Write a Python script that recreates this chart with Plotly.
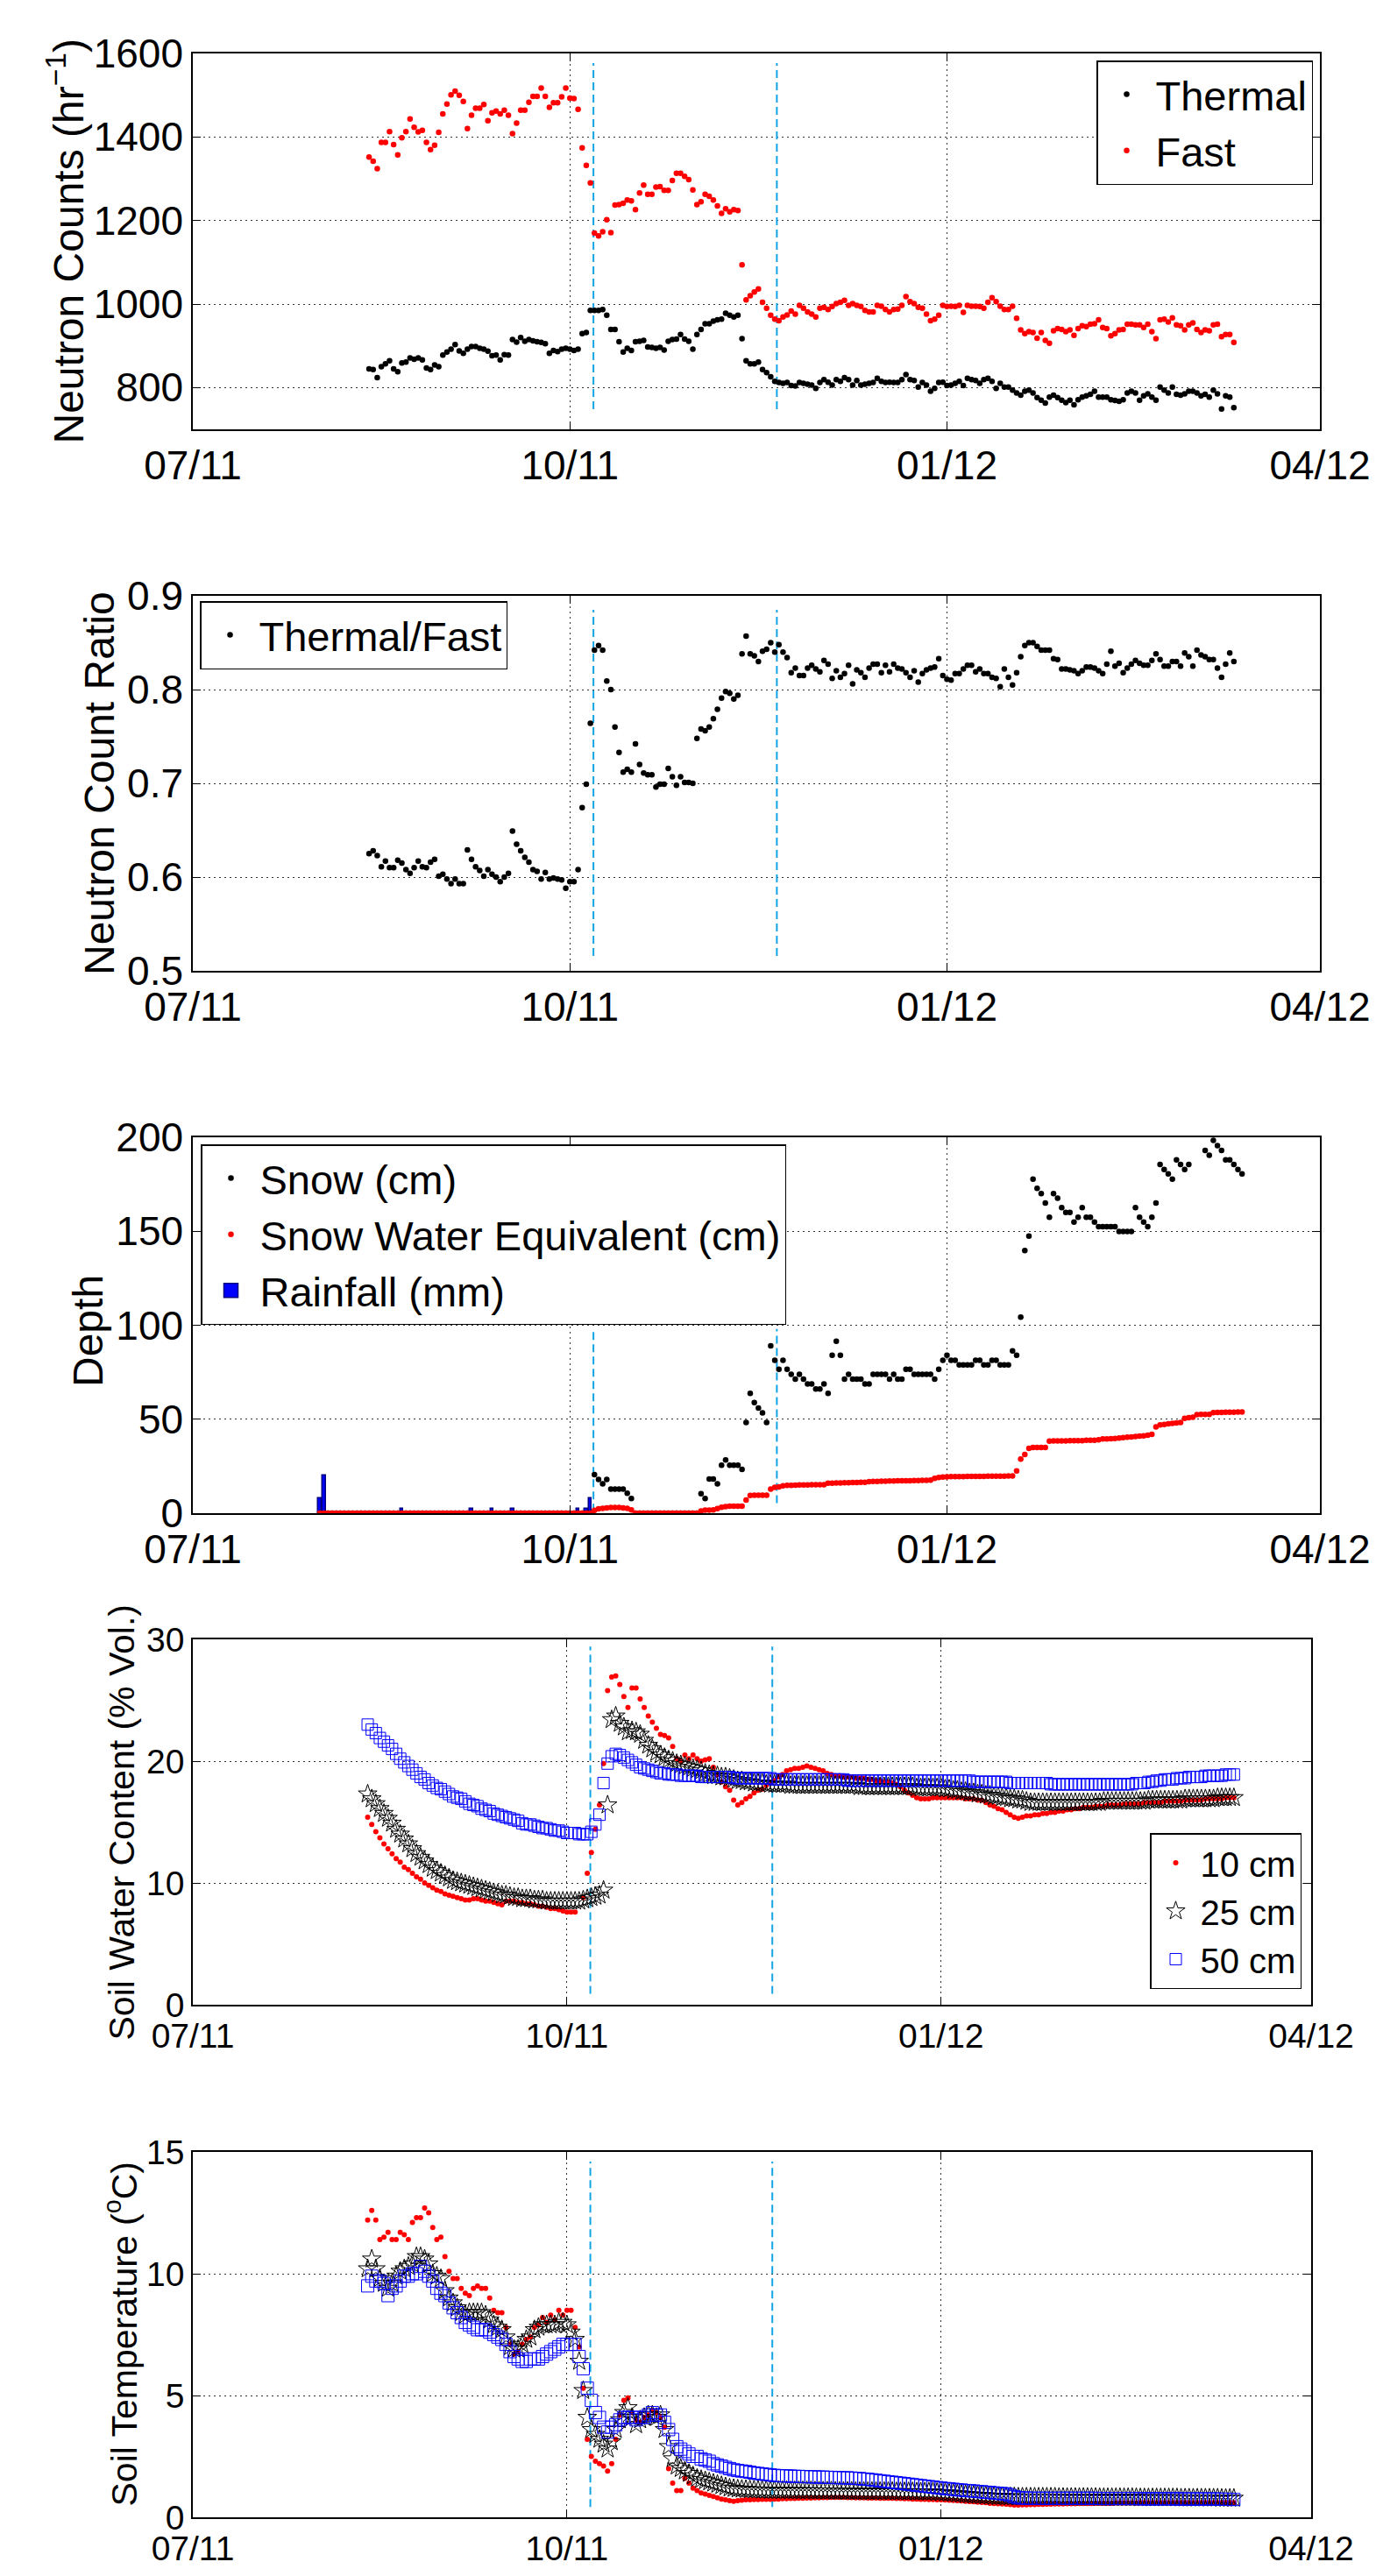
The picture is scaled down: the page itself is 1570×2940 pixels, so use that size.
import pandas as pd
import plotly.graph_objects as go

nan = float("nan")

# ---------------- data ----------------
X_START = "2011-07-01"
X_END = "2012-04-01"
X_TICKS = ["2011-07-01", "2011-10-01", "2012-01-01", "2012-04-01"]
X_TICK_LABELS = ["07/11", "10/11", "01/12", "04/12"]

EVENT_DATES = ["2011-10-06 18:00", "2011-11-20 12:00"]

NEUTRON_START = "2011-08-13"
THERMAL = [
    845, 843, 824, 850, 857, 864, 845, 838, 859, 861,
    871, 868, 871, 866, 847, 843, 854, 850, 878, 885,
    892, 903, 888, 882, 892, 898, 898, 894, 892, 887,
    876, 878, 866, 879, 878, 915, 909, 920, 911, 915,
    912, 910, 908, 905, 882, 889, 886, 892, 894, 892,
    889, 892, 929, 932, 985, 985, 985, 987, 973, 939,
    939, 910, 885, 894, 889, 910, 911, 913, 897, 896,
    894, 896, 890, 911, 915, 916, 927, 916, 911, 892,
    927, 939,
    953, 953, 959, 962, 964, 978, 973, 969, 973, 917,
    864, 857, 857, 861, 843, 836, 826, 815, 812, 810,
    812, 805, 804, 812, 810, 808, 806, 798, 812, 819,
    813, 806, 819, 815, 824, 819, 806, 817, 806, 808,
    810, 812, 822, 815, 812, 813, 812, 812, 819, 831,
    819, 817, 801, 812, 806, 791, 798, 812, 813, 805,
    806, 810, 815, 805, 822, 819, 817, 810, 819, 822,
    815, 798, 810, 801, 801, 794, 787, 782, 791, 794,
    787, 776, 770, 763, 777, 782, 776, 770, 764, 770,
    759, 771, 777, 780, 784, 791, 777, 777, 777, 771,
    769, 767, 771, 787, 791, 787, 770, 780, 785, 777,
    770, 801, 794, 787, 801, 784, 782, 785, 791, 791,
    787, 780, 784, 777, 794, 785, 749, 780, 777, 752,
]
FAST = [
    1352, 1342, 1324, 1387, 1387, 1413, 1382, 1357, 1398, 1413,
    1443, 1423, 1412, 1416, 1387, 1370, 1380, 1411, 1455, 1479,
    1501, 1510, 1500, 1485, 1420, 1452, 1469, 1469, 1478, 1439,
    1458, 1462, 1455, 1464, 1452, 1408, 1433, 1464, 1464, 1483,
    1497, 1497, 1517, 1497, 1471, 1482, 1482, 1496, 1517, 1493,
    1492, 1466, 1374, 1332, 1290, 1170, 1163, 1173, 1202, 1171,
    1237, 1238, 1241, 1249, 1247, 1226, 1266, 1285, 1263, 1263,
    1280, 1281, 1272, 1272, 1296, 1313, 1313, 1306, 1298, 1273,
    1238, 1245,
    1263, 1258, 1249, 1235, 1217, 1228, 1221, 1226, 1224, 1094,
    1010, 1020, 1029, 1036, 1004, 990, 973, 964, 960, 969,
    974, 983, 976, 997, 990, 981, 976, 969, 990, 992,
    987, 994, 1001, 1004, 1009, 997, 1001, 997, 994, 985,
    981, 981, 997, 995, 987, 981, 987, 988, 997, 1018,
    1006, 1001, 992, 990, 976, 960, 964, 973, 997, 994,
    995, 994, 997, 980, 997, 995, 995, 994, 990, 1004,
    1015, 1006, 995, 987, 987, 995, 966, 938, 929, 934,
    932, 918, 932, 913, 906, 936, 941, 939, 934, 938,
    925, 941, 948, 946, 952, 953, 962, 944, 941, 924,
    929, 938, 939, 952, 952, 950, 950, 944, 952, 934,
    917, 962, 964, 957, 967, 950, 948, 938, 950, 955,
    939, 932, 938, 936, 950, 952, 922, 927, 927, 908,
]
RATIO = [
    0.625, 0.628, 0.623, 0.611, 0.617, 0.610, 0.610, 0.618, 0.615, 0.608,
    0.604, 0.610, 0.617, 0.611, 0.610, 0.616, 0.619, 0.601, 0.603, 0.598,
    0.593, 0.598, 0.593, 0.593, 0.629, 0.619, 0.611, 0.607, 0.601, 0.608,
    0.603, 0.600, 0.595, 0.600, 0.604, 0.649, 0.635, 0.628, 0.621, 0.616,
    0.608, 0.606, 0.598, 0.605, 0.598, 0.599, 0.598, 0.597, 0.588, 0.595,
    0.595, 0.608, 0.674, 0.699, 0.764, 0.842, 0.847, 0.842, 0.809, 0.800,
    0.760, 0.733, 0.712, 0.715, 0.712, 0.742, 0.720, 0.711, 0.709, 0.709,
    0.696, 0.699, 0.699, 0.716, 0.707, 0.698, 0.707, 0.701, 0.701, 0.700,
    0.748, 0.758,
    0.756, 0.760, 0.769, 0.779, 0.791, 0.798, 0.796, 0.790, 0.794, 0.838,
    0.857, 0.838, 0.836, 0.830, 0.841, 0.843, 0.850, 0.840, 0.848, 0.840,
    0.834, 0.818, 0.823, 0.815, 0.815, 0.823, 0.826, 0.822, 0.819, 0.831,
    0.827, 0.812, 0.820, 0.813, 0.817, 0.826, 0.806, 0.821, 0.818, 0.813,
    0.823, 0.827, 0.827, 0.818, 0.826, 0.819, 0.827, 0.823, 0.822, 0.818,
    0.813, 0.820, 0.808, 0.817, 0.821, 0.823, 0.824, 0.833, 0.815, 0.811,
    0.810, 0.817, 0.817, 0.822, 0.826, 0.826, 0.819, 0.822, 0.817, 0.817,
    0.813, 0.812, 0.803, 0.822, 0.813, 0.805, 0.818, 0.835, 0.847, 0.850,
    0.850, 0.846, 0.842, 0.842, 0.842, 0.833, 0.832, 0.822, 0.822, 0.821,
    0.820, 0.817, 0.820, 0.824, 0.824, 0.823, 0.820, 0.817, 0.827, 0.841,
    0.825, 0.828, 0.818, 0.823, 0.827, 0.831, 0.828, 0.826, 0.826, 0.831,
    0.838, 0.832, 0.825, 0.825, 0.830, 0.830, 0.825, 0.839, 0.835, 0.825,
    0.842, 0.837, 0.835, 0.832, 0.832, 0.823, 0.813, 0.827, 0.839, 0.830,
]

SNOW_START = "2011-08-01"
SNOW_CM = [
    0, 0, 0, 0, 0, 0, 0, 0, 0, 0,
    0, 0, 0, 0, 0, 0, 0, 0, 0, 0,
    0, 0, 0, 0, 0, 0, 0, 0, 0, 0,
    0, 0, 0, 0, 0, 0, 0, 0, 0, 0,
    0, 0, 0, 0, 0, 0, 0, 0, 0, 0,
    0, 0, 0, 0, 0, 0, 0, 0, 0, 0,
    0, 0, 0, 0, 0, 0, 0,
    20.5, 17.9, 15.6, 17.9, 12.8, 12.8, 12.8, 12.8, 10.6, 7.8,
    0, 0, 0, 0, 0, 0, 0, 0, 0, 0, 0, 0, 0, 0, 0, 0,
    10.4, 7.8, 18.2, 18.2, 15.6, 25.5, 28.3, 25.5, 25.5, 25.5,
    23.3, 48.2, 63.8, 58.8, 56.0, 53.4, 48.2, 89.0, 81.4, 76.6,
    81.4, 76.6, 73.9, 71.3, 73.9, 71.3, 68.8, 68.8, 66.1, 66.1,
    68.8, 63.8, 84.0, 91.5, 84.0, 71.3, 73.9, 71.3, 71.3, 71.3,
    68.8, 68.8, 73.9, 73.9, 73.9, 73.9, 71.3, 73.9, 71.3, 71.3,
    76.6, 76.6, 73.9, 73.9, 73.9, 73.9, 73.9, 71.3, 76.6, 81.4,
    84.0, 81.4, 81.4, 78.9, 78.9, 78.9, 78.9, 81.4, 81.4, 78.9,
    78.9, 81.4, 81.4, 78.9, 78.9, 78.9, 86.4, 84.0, 104.3, 139.8,
    147.4, 177.7, 172.8, 170.1, 165.0, 157.5, 170.1, 167.6, 162.6, 160.0,
    160.0, 154.9, 157.5, 162.6, 157.5, 157.5, 154.9, 152.5, 152.5, 152.5,
    152.5, 152.5, 149.9, 149.9, 149.9, 149.9, 162.6, 157.5, 154.9, 152.5,
    157.5, 165.0, 185.5, 182.9, 180.5, 177.7, 188.0, 185.5, 182.9, 185.5,
    nan, nan, nan,
    193.0, 190.5, 198.4, 195.6, 193.0, 188.0, 188.0, 185.5, 182.9, 180.5,
]
SWE_CM = [
    0, 0, 0, 0, 0, 0, 0, 0, 0, 0,
    0, 0, 0, 0, 0, 0, 0, 0, 0, 0,
    0, 0, 0, 0, 0, 0, 0, 0, 0, 0,
    0, 0, 0, 0, 0, 0, 0, 0, 0, 0,
    0, 0, 0, 0, 0, 0, 0, 0, 0, 0,
    0, 0, 0, 0, 0, 0, 0, 0, 0, 0,
    0, 0, 0, 0, 0, 0, 0,
    1.5, 2.3, 2.6, 2.8, 3.0, 3.0, 3.0, 2.8, 2.6, 1.8,
    0, 0, 0, 0, 0, 0, 0, 0, 0, 0, 0, 0, 0, 0, 0, 0,
    1.2, 1.6, 1.6, 1.8, 2.5, 3.2, 3.5, 3.7, 3.7, 3.7,
    3.7, 7.0, 9.4, 9.6, 9.6, 9.6, 9.6, 12.8, 13.7, 14.0,
    14.6, 14.8, 14.8, 14.9, 15.0, 15.0, 15.0, 15.1, 15.1, 15.1, 15.2,
    16.0, 16.0, 16.1, 16.1, 16.2, 16.2, 16.3, 16.3, 16.4, 16.4,
    16.8, 16.9, 16.9, 17.0, 17.0, 17.1, 17.1, 17.2, 17.2, 17.3,
    17.3, 17.4, 17.4, 17.5, 17.5, 17.6,
    18.5, 19.0, 19.2,
    19.4, 19.5, 19.5, 19.5, 19.5, 19.6, 19.6, 19.6, 19.6, 19.6,
    19.7, 19.7, 19.7, 19.7, 19.7, 19.8, 19.8,
    22.5, 28.8, 31.2,
    34.5, 35.0, 35.0, 35.0, 35.0,
    38.3, 38.5, 38.5, 38.5, 38.5, 38.6, 38.6, 38.6, 38.6, 38.8, 38.8, 38.8,
    39.0, 39.5, 39.5, 39.6, 39.8, 40.0, 40.2, 40.4, 40.6, 40.8, 41.0, 41.2, 41.5,
    42.0, 45.9,
    47.0, 47.2, 47.5, 47.8, 48.0, 48.2,
    50.5, 50.8, 51.0,
    52.4, 52.6, 52.6, 52.6,
    53.5, 53.6, 53.6, 53.7, 53.7, 53.7, 53.8, 53.8,
]
RAIN_DATES = ["2011-08-01", "2011-08-02", "2011-08-21", "2011-09-07", "2011-09-12",
              "2011-09-17", "2011-10-03", "2011-10-05", "2011-10-06"]
RAIN_MM = [7.8, 20.2, 2.3, 2.3, 2.3, 2.3, 2.3, 2.3, 7.8]

SOIL_START = "2011-08-13"
SWC_10 = [
    15.4, 14.8, 14.2, 13.7, 13.2, 12.8, 12.4, 12.0, 11.7, 11.3,
    11.1, 10.8, 10.5, 10.3, 10.0, 9.8, 9.6, 9.4, 9.3, 9.1,
    9.0, 8.9, 8.8, 8.7, 8.6, 8.6, 8.7, 8.7, 8.6, 8.5,
    8.5, 8.4, 8.3, 8.2, 8.5, 8.5, 8.5, 8.4, 8.4, 8.3,
    8.3, 8.2, 8.1, 8.1, 8.0, 7.9, 7.9, 7.8, 7.7, 7.6,
    7.6, 7.6, nan, 8.8, 10.8, 12.5, 14.4, 16.4, 19.8, 25.8,
    26.9, 27.0, 26.3, 25.3, 24.4, 26.0, 26.0, 25.1, 24.4, 23.7,
    23.2, 22.7, 22.2, 22.1, 21.9, 21.2, 20.2, 20.0, 20.5, 20.2,
    20.5, 20.2, 20.0, 20.1, 20.2, 19.5, 18.9, 18.3, 17.9, 17.6,
    16.8, 16.4, 16.6, 16.9, 17.1, 17.4, 17.6, 17.7, 18.0, 18.2,
    18.4, 18.7, 18.9, 19.2, 19.3, 19.4, 19.4, 19.5, 19.6, 19.5,
    19.4, 19.3, 19.2, 19.0, 18.9, 18.8, 18.8, 18.7, 18.7, 18.7,
    18.6, 18.6, 18.6, 18.5, 18.5, 18.4, 18.4, 18.3, 18.3, 18.2,
    18.1, 17.9, 17.6, 17.4, 17.2, 17.0, 16.9, 16.9, 16.9, 17.0,
    17.0, 17.0, 17.0, 17.0, 17.0, 17.0, 17.0, 16.9, 16.9, 16.9,
    16.8, 16.8, 16.6, 16.4, 16.3, 16.1, 16.0, 15.8, 15.6, 15.4,
    15.3, 15.4, 15.5, 15.5, 15.6, 15.6, 15.7, 15.7, 15.8, 15.8,
    15.9, 15.9, 16.0, 16.0, 16.1, 16.1, 16.2, 16.2, 16.2, 16.3,
    16.3, 16.3, 16.4, 16.4, 16.4, 16.4, 16.5, 16.5, 16.5, 16.5,
    16.5, 16.6, 16.6, 16.6, 16.6, 16.6, 16.7, 16.7, 16.7, 16.7,
    16.7, 16.8, 16.8, 16.8, 16.8, 16.8, 16.9, 16.9, 16.9, 16.9,
    16.9, 17.0, 17.0, 17.0,
]
SWC_25 = [
    17.3, 16.9, 16.5, 16.1, 15.7, 15.3, 14.9, 14.4, 14.0, 13.6,
    13.2, 12.8, 12.4, 12.1, 11.8, 11.5, 11.2, 11.0, 10.8, 10.6,
    10.4, 10.2, 10.1, 10.0, 9.9, 9.8, 9.7, 9.6, 9.5, 9.4,
    9.3, 9.2, 9.1, 9.0, 9.0, 8.9, 8.8, 8.8, 8.7, 8.7,
    8.7, 8.6, 8.6, 8.6, 8.5, 8.5, 8.5, 8.5, 8.5, 8.5,
    8.5, 8.5, 8.5, 8.6, 8.7, 8.8, 8.9, 9.0, 9.4, 16.4,
    23.4, 23.7, 23.1, 22.8, 22.4, 22.5, 22.4, 22.2, 21.7, 21.3,
    21.0, 20.7, 20.5, 20.3, 20.1, 20.0, 19.8, 19.7, 19.6, 19.5,
    19.4, 19.3, 19.2, 19.0, 18.9, 18.8, 18.8, 18.7, 18.7, 18.6,
    18.5, 18.4, 18.4, 18.3, 18.3, 18.2, 18.2, 18.2, 18.1, 18.1,
    18.1, 18.1, 18.1, 18.1, 18.0, 18.0, 18.0, 18.0, 18.0, 18.0,
    18.0, 18.0, 18.0, 18.0, 18.0, 18.0, 18.0, 18.0, 18.0, 18.0,
    18.0, 17.9, 17.9, 17.9, 17.9, 17.9, 17.9, 17.9, 17.9, 17.9,
    17.9, 17.9, 17.9, 17.9, 17.9, 17.8, 17.8, 17.8, 17.8, 17.8,
    17.8, 17.8, 17.7, 17.7, 17.6, 17.6, 17.5, 17.5, 17.4, 17.4,
    17.3, 17.3, 17.2, 17.2, 17.1, 17.1, 17.0, 17.0, 16.9, 16.9,
    16.8, 16.8, 16.7, 16.6, 16.6, 16.6, 16.6, 16.6, 16.6, 16.6,
    16.6, 16.6, 16.6, 16.6, 16.6, 16.6, 16.6, 16.6, 16.6, 16.6,
    16.6, 16.7, 16.7, 16.7, 16.7, 16.7, 16.7, 16.7, 16.7, 16.7,
    16.7, 16.7, 16.8, 16.8, 16.8, 16.8, 16.8, 16.8, 16.8, 16.8,
    16.8, 16.9, 16.9, 16.9, 16.9, 16.9, 16.9, 16.9, 16.9, 17.0,
    17.0, 17.0, 17.0, 17.0,
]
SWC_50 = [
    23.0, 22.6, 22.3, 21.9, 21.6, 21.3, 21.0, 20.6, 20.2, 19.9,
    19.6, 19.3, 19.0, 18.7, 18.5, 18.2, 18.0, 17.8, 17.7, 17.5,
    17.3, 17.1, 17.0, 16.9, 16.7, 16.5, 16.4, 16.3, 16.1, 16.0,
    15.9, 15.7, 15.6, 15.5, 15.4, 15.3, 15.2, 15.1, 14.9, 14.8,
    14.8, 14.7, 14.6, 14.5, 14.5, 14.4, 14.3, 14.3, 14.2, 14.1,
    14.1, 14.1, 14.0, 14.0, 14.0, 14.2, 14.8, 15.6, 18.2, 19.8,
    20.4, 20.6, 20.5, 20.3, 20.1, 19.9, 19.7, 19.5, 19.4, 19.3,
    19.2, 19.1, 19.0, 19.0, 18.9, 18.9, 18.9, 18.8, 18.8, 18.8,
    18.8, 18.8, 18.7, 18.7, 18.7, 18.7, 18.7, 18.7, 18.7, 18.7,
    18.6, 18.6, 18.6, 18.6, 18.6, 18.6, 18.6, 18.6, 18.6, 18.6,
    18.5, 18.5, 18.5, 18.5, 18.5, 18.5, 18.5, 18.5, 18.5, 18.5,
    18.5, 18.5, 18.5, 18.5, 18.5, 18.5, 18.5, 18.5, 18.4, 18.4,
    18.4, 18.4, 18.4, 18.4, 18.4, 18.4, 18.4, 18.4, 18.4, 18.4,
    18.4, 18.4, 18.4, 18.4, 18.4, 18.4, 18.4, 18.4, 18.4, 18.4,
    18.4, 18.4, 18.4, 18.4, 18.4, 18.4, 18.4, 18.4, 18.4, 18.3,
    18.3, 18.3, 18.3, 18.3, 18.3, 18.3, 18.3, 18.3, 18.2, 18.2,
    18.2, 18.2, 18.2, 18.2, 18.2, 18.2, 18.2, 18.2, 18.1, 18.1,
    18.1, 18.1, 18.1, 18.1, 18.1, 18.1, 18.1, 18.1, 18.1, 18.1,
    18.1, 18.1, 18.1, 18.1, 18.1, 18.1, 18.1, 18.1, 18.1, 18.2,
    18.2, 18.2, 18.3, 18.3, 18.4, 18.4, 18.5, 18.5, 18.5, 18.6,
    18.6, 18.6, 18.7, 18.7, 18.7, 18.7, 18.8, 18.8, 18.8, 18.8,
    18.8, 18.9, 18.9, 18.9,
]
TEMP_10 = [
    12.2, 12.6, 12.2, 11.4, 11.5, 11.7, 11.4, 11.4, 11.7, 11.6,
    11.4, 12.1, 12.3, 12.3, 12.7, 12.5, 11.9, 11.4, 11.5, 10.7,
    10.1, 9.8, 9.8, 9.4, 9.2, 9.1, 9.4, 9.5, 9.4, 9.4,
    9.0, 8.5, 8.4, 8.4, 7.8, 7.1, 6.7, 6.8, 7.1, 7.3,
    7.4, 7.8, 7.9, 8.2, 8.0, 8.3, 8.1, 8.5, 8.3, 8.5,
    8.5, 7.8, 7.0, 5.3, 3.2, 2.5, 2.3, 2.2, 2.1, 1.9,
    2.2, 3.2, 4.2, 4.8, 4.9, 4.3, 4.0, 3.9, 4.1, 4.2,
    4.4, 4.3, 4.1, 3.7, 2.0, 1.4, 1.1, 1.1, 1.6, 1.4,
    1.2, 1.1, 1.0, 0.95, 0.9, 0.85, 0.8, 0.75, 0.72, 0.68,
    0.66, 0.68, 0.70, 0.72, 0.72, 0.73, 0.73, 0.74, 0.74, 0.74,
    0.75, 0.75, 0.76, 0.76, 0.77, 0.77, 0.78, 0.78, 0.79, 0.79,
    0.80, 0.80, 0.81, 0.81, 0.82, 0.82, 0.82, 0.82, 0.81, 0.81,
    0.80, 0.80, 0.80, 0.79, 0.79, 0.79, 0.78, 0.78, 0.78, 0.78,
    0.77, 0.77, 0.76, 0.76, 0.75, 0.75, 0.74, 0.74, 0.73, 0.73,
    0.72, 0.72, 0.71, 0.70, 0.69, 0.68, 0.67, 0.66, 0.65, 0.64,
    0.62, 0.61, 0.60, 0.58, 0.57, 0.56, 0.55, 0.54, 0.52, 0.50,
    0.50, 0.51, 0.51, 0.52, 0.52, 0.53, 0.53, 0.54, 0.54, 0.55,
    0.55, 0.55, 0.56, 0.56, 0.56, 0.57, 0.57, 0.57, 0.57, 0.58,
    0.58, 0.58, 0.58, 0.58, 0.59, 0.59, 0.59, 0.59, 0.59, 0.59,
    0.60, 0.60, 0.60, 0.60, 0.60, 0.60, 0.60, 0.60, 0.60, 0.60,
    0.60, 0.60, 0.60, 0.60, 0.60, 0.60, 0.60, 0.60, 0.60, 0.60,
    0.60, 0.60, 0.60, 0.60,
]
TEMP_25 = [
    10.2, 10.6, 10.2, 9.8, 9.6, 9.4, 9.6, 9.9, 10.1, 10.2,
    10.3, 10.4, 10.7, 10.7, 10.6, 10.4, 10.0, 9.9, 9.8, 9.3,
    9.0, 8.8, 8.6, 8.4, 8.3, 8.4, 8.4, 8.4, 8.4, 8.3,
    8.1, 7.9, 7.8, 7.7, 7.4, 7.0, 6.9, 6.9, 7.1, 7.3,
    7.4, 7.7, 7.8, 7.9, 7.9, 7.9, 7.9, 8.0, 8.0, 7.9,
    7.6, 7.3, 6.4, 5.2, 4.1, 3.6, 3.4, 3.2, 3.0, 2.8,
    3.1, 3.6, 4.0, 4.3, 4.5, 4.1, 3.8, 4.0, 4.1, 4.2,
    4.2, 4.1, 4.2, 3.6, 2.9, 2.4, 2.1, 2.0, 1.9, 1.8,
    1.7, 1.6, 1.55, 1.5, 1.45, 1.4, 1.35, 1.3, 1.25, 1.2,
    1.18, 1.16, 1.15, 1.14, 1.13, 1.12, 1.12, 1.11, 1.11, 1.10,
    1.10, 1.10, 1.10, 1.10, 1.09, 1.09, 1.09, 1.09, 1.09, 1.09,
    1.08, 1.08, 1.08, 1.08, 1.08, 1.07, 1.07, 1.07, 1.07, 1.07,
    1.06, 1.06, 1.06, 1.06, 1.06, 1.06, 1.06, 1.06, 1.06, 1.06,
    1.05, 1.05, 1.05, 1.05, 1.05, 1.04, 1.04, 1.04, 1.04, 1.04,
    1.02, 1.01, 1.00, 0.99, 0.98, 0.96, 0.95, 0.93, 0.92, 0.91,
    0.90, 0.89, 0.88, 0.87, 0.86, 0.85, 0.85, 0.84, 0.84, 0.84,
    0.83, 0.83, 0.83, 0.83, 0.83, 0.83, 0.83, 0.83, 0.83, 0.83,
    0.82, 0.82, 0.82, 0.82, 0.82, 0.82, 0.82, 0.82, 0.82, 0.82,
    0.81, 0.81, 0.81, 0.81, 0.81, 0.81, 0.81, 0.81, 0.81, 0.81,
    0.80, 0.80, 0.80, 0.80, 0.80, 0.80, 0.80, 0.80, 0.80, 0.80,
    0.79, 0.79, 0.79, 0.79, 0.79, 0.79, 0.79, 0.79, 0.79, 0.79,
    0.78, 0.78, 0.78, 0.78,
]
TEMP_50 = [
    9.5, 9.9, 9.7, 9.7, 9.6, 9.1, 9.4, 9.5, 9.7, 9.9,
    9.9, 10.0, 10.0, 10.3, 10.1, 9.9, 9.7, 9.4, 9.2, 9.1,
    8.8, 8.6, 8.4, 8.2, 8.0, 7.9, 7.8, 7.7, 7.7, 7.7,
    7.6, 7.5, 7.4, 7.3, 7.1, 6.8, 6.6, 6.5, 6.4, 6.4,
    6.5, 6.5, 6.5, 6.6, 6.7, 6.8, 6.9, 7.0, 7.1, 7.1,
    7.1, 7.1, 6.6, 6.1, 5.3, 4.8, 4.3, 4.1, 3.7, 3.5,
    3.7, 3.8, 4.0, 4.1, 4.1, 4.1, 4.0, 4.1, 4.1, 4.2,
    4.3, 4.2, 4.2, 3.9, 3.6, 3.2, 2.9, 2.8, 2.7, 2.6,
    2.5, 2.5, 2.4, 2.35, 2.3, 2.2, 2.15, 2.1, 2.05, 2.0,
    1.95, 1.92, 1.9, 1.88, 1.85, 1.82, 1.8, 1.78, 1.76, 1.74,
    1.72, 1.71, 1.70, 1.70, 1.69, 1.68, 1.68, 1.67, 1.67, 1.66,
    1.66, 1.65, 1.65, 1.64, 1.64, 1.63, 1.63, 1.62, 1.62, 1.61,
    1.60, 1.59, 1.57, 1.56, 1.54, 1.52, 1.50, 1.48, 1.46, 1.44,
    1.42, 1.40, 1.38, 1.36, 1.34, 1.32, 1.30, 1.28, 1.26, 1.24,
    1.22, 1.20, 1.18, 1.17, 1.15, 1.13, 1.12, 1.10, 1.09, 1.08,
    1.06, 1.05, 1.03, 1.02, 1.00, 0.99, 0.97, 0.96, 0.90, 0.84,
    0.80, 0.79, 0.79, 0.78, 0.78, 0.78, 0.78, 0.78, 0.78, 0.78,
    0.78, 0.78, 0.78, 0.78, 0.78, 0.78, 0.78, 0.78, 0.78, 0.78,
    0.77, 0.77, 0.77, 0.77, 0.77, 0.77, 0.77, 0.77, 0.77, 0.77,
    0.76, 0.76, 0.76, 0.76, 0.76, 0.76, 0.76, 0.76, 0.76, 0.76,
    0.75, 0.75, 0.75, 0.75, 0.75, 0.75, 0.75, 0.75, 0.75, 0.75,
    0.74, 0.74, 0.74, 0.73,
]

# vertical extent of the two dashed event lines in each panel (data units)
EVENT_SPANS = [
    [(748, 1577), (748, 1577)],
    [(0.516, 0.885), (0.516, 0.885)],
    [(0.8, 98), (5.4, 98)],
    [(0.9, 29.4), (0.9, 29.4)],
    [(0.42, 14.6), (0.42, 14.6)],
]

# ---------------- figure ----------------
W, H = 1570, 2940
FONT = "Liberation Sans, Arial, Helvetica, sans-serif"
EVENT_COLOR = "#12A4E4"


def days(start, values):
    return pd.date_range(start, periods=len(values), freq="D")


fig = go.Figure()

# event lines (drawn first, beneath the markers)
for p, spans in enumerate(EVENT_SPANS, start=1):
    ax = "" if p == 1 else str(p)
    for d, (lo, hi) in zip(EVENT_DATES, spans):
        fig.add_trace(go.Scatter(
            x=[d, d], y=[lo, hi], mode="lines", showlegend=False, hoverinfo="skip",
            line=dict(color=EVENT_COLOR, width=2, dash="9px,5px"),
            xaxis="x" + ax, yaxis="y" + ax))

dot = dict(size=6.5)

# panel 1
fig.add_trace(go.Scatter(x=days(NEUTRON_START, THERMAL), y=THERMAL, mode="markers",
                         name="Thermal", marker=dict(color="black", **dot),
                         xaxis="x", yaxis="y", legend="legend"))
fig.add_trace(go.Scatter(x=days(NEUTRON_START, FAST), y=FAST, mode="markers",
                         name="Fast", marker=dict(color="red", **dot),
                         xaxis="x", yaxis="y", legend="legend"))
# panel 2
fig.add_trace(go.Scatter(x=days(NEUTRON_START, RATIO), y=RATIO, mode="markers",
                         name="Thermal/Fast", marker=dict(color="black", **dot),
                         xaxis="x2", yaxis="y2", legend="legend2"))
# panel 3
fig.add_trace(go.Bar(x=RAIN_DATES, y=RAIN_MM, name="Rainfall (mm)", width=0.8 * 86400000,
                     marker=dict(color="#0000FF", line=dict(color="#000080", width=1.5)),
                     showlegend=False, xaxis="x3", yaxis="y3"))
fig.add_trace(go.Scatter(x=days(SNOW_START, SNOW_CM), y=SNOW_CM, mode="markers",
                         name="Snow (cm)", marker=dict(color="black", **dot),
                         xaxis="x3", yaxis="y3", legend="legend3"))
fig.add_trace(go.Scatter(x=days(SNOW_START, SWE_CM), y=SWE_CM, mode="markers",
                         name="Snow Water Equivalent (cm)", marker=dict(color="red", **dot),
                         xaxis="x3", yaxis="y3", legend="legend3"))
# legend-only entry for the rainfall bars (larger swatch, as in the original legend)
fig.add_trace(go.Scatter(x=[None], y=[None], mode="markers", name="Rainfall (mm)",
                         marker=dict(symbol="square", size=26, color="#0000FF",
                                     line=dict(color="#000080", width=1.5)),
                         xaxis="x3", yaxis="y3", legend="legend3"))
# panel 4
fig.add_trace(go.Scatter(x=days(SOIL_START, SWC_10), y=SWC_10, mode="markers", name="10 cm",
                         marker=dict(color="red", size=6),
                         xaxis="x4", yaxis="y4", legend="legend4"))
fig.add_trace(go.Scatter(x=days(SOIL_START, SWC_25), y=SWC_25, mode="markers", name="25 cm",
                         marker=dict(color="black", symbol="star-open", size=16, line=dict(width=1)),
                         xaxis="x4", yaxis="y4", legend="legend4"))
fig.add_trace(go.Scatter(x=days(SOIL_START, SWC_50), y=SWC_50, mode="markers", name="50 cm",
                         marker=dict(color="blue", symbol="square-open", size=13, line=dict(width=1)),
                         xaxis="x4", yaxis="y4", legend="legend4"))
# panel 5
fig.add_trace(go.Scatter(x=days(SOIL_START, TEMP_10), y=TEMP_10, mode="markers", showlegend=False,
                         marker=dict(color="red", size=6), xaxis="x5", yaxis="y5"))
fig.add_trace(go.Scatter(x=days(SOIL_START, TEMP_25), y=TEMP_25, mode="markers", showlegend=False,
                         marker=dict(color="black", symbol="star-open", size=16, line=dict(width=1)),
                         xaxis="x5", yaxis="y5"))
fig.add_trace(go.Scatter(x=days(SOIL_START, TEMP_50), y=TEMP_50, mode="markers", showlegend=False,
                         marker=dict(color="blue", symbol="square-open", size=14, line=dict(width=1)),
                         xaxis="x5", yaxis="y5"))

# axes layout (pixel boxes of each plot area)
PANELS = [
    dict(x=(220, 1506), y=(61, 490), yr=[700, 1600], tick0=800, dtick=200, fs=46, fmt=""),
    dict(x=(220, 1506), y=(680, 1108), yr=[0.5, 0.9], tick0=0.5, dtick=0.1, fs=46, fmt=".1f"),
    dict(x=(220, 1506), y=(1298, 1727), yr=[0, 200], tick0=0, dtick=50, fs=46, fmt=""),
    dict(x=(220, 1496), y=(1871, 2288), yr=[0, 30], tick0=0, dtick=10, fs=39, fmt=""),
    dict(x=(220, 1496), y=(2456, 2873), yr=[0, 15], tick0=0, dtick=5, fs=39, fmt=""),
]
common = dict(showline=True, linecolor="black", linewidth=1.5, mirror="ticks",
              ticks="inside", ticklen=9, tickwidth=1, tickcolor="black",
              showgrid=True, gridcolor="#333333", gridwidth=1, griddash="2px,4px",
              zeroline=False, automargin=False)
layout = {}
for i, p in enumerate(PANELS, start=1):
    s = "" if i == 1 else str(i)
    layout["xaxis" + s] = dict(
        domain=[p["x"][0] / W, p["x"][1] / W], anchor="y" + s, type="date",
        range=[X_START, X_END], tickvals=X_TICKS, ticktext=X_TICK_LABELS,
        tickfont=dict(size=p["fs"], family=FONT, color="black"), **common)
    layout["yaxis" + s] = dict(
        domain=[1 - p["y"][1] / H, 1 - p["y"][0] / H], anchor="x" + s,
        range=p["yr"], tick0=p["tick0"], dtick=p["dtick"], tickformat=p["fmt"],
        tickfont=dict(size=p["fs"], family=FONT, color="black"), **common)

legend_common = dict(bgcolor="white", bordercolor="black", borderwidth=1.5,
                     yanchor="top", traceorder="normal")
layout["legend"] = dict(x=1498 / W, y=1 - 69 / H, xanchor="right", itemwidth=56,
                        font=dict(size=47, family=FONT, color="black"), **legend_common)
layout["legend2"] = dict(x=228 / W, y=1 - 686 / H, xanchor="left", itemwidth=56,
                         font=dict(size=47, family=FONT, color="black"), **legend_common)
layout["legend3"] = dict(x=229 / W, y=1 - 1306 / H, xanchor="left", itemwidth=56,
                         font=dict(size=47, family=FONT, color="black"), **legend_common)
layout["legend4"] = dict(x=1485 / W, y=1 - 2092 / H, xanchor="right", itemwidth=46,
                         font=dict(size=40, family=FONT, color="black"), **legend_common)

TITLES = [
    ("Neutron Counts (hr<sup>\u22121</sup>)", 74, 275.5, 48),
    ("Neutron Count Ratio", 113, 894, 48),
    ("Depth", 100, 1519, 48),
    ("Soil Water Content (% Vol.)", 138, 2079.5, 41),
    ("Soil Temperature (<sup>o</sup>C)", 138, 2664.5, 41),
]
annotations = [
    dict(text=t, x=xp / W, y=1 - yp / H, xref="paper", yref="paper", showarrow=False,
         textangle=-90, xanchor="center", yanchor="middle",
         font=dict(size=fs, family=FONT, color="black"))
    for t, xp, yp, fs in TITLES
]

fig.update_layout(
    width=W, height=H, margin=dict(l=0, r=0, t=0, b=0, autoexpand=False),
    paper_bgcolor="white", plot_bgcolor="white",
    font=dict(family=FONT, color="black"),
    annotations=annotations, bargap=0, **layout)

fig.write_html("out.html", config={"responsive": False, "displayModeBar": False},
               post_script="document.body.style.margin='0px';")
